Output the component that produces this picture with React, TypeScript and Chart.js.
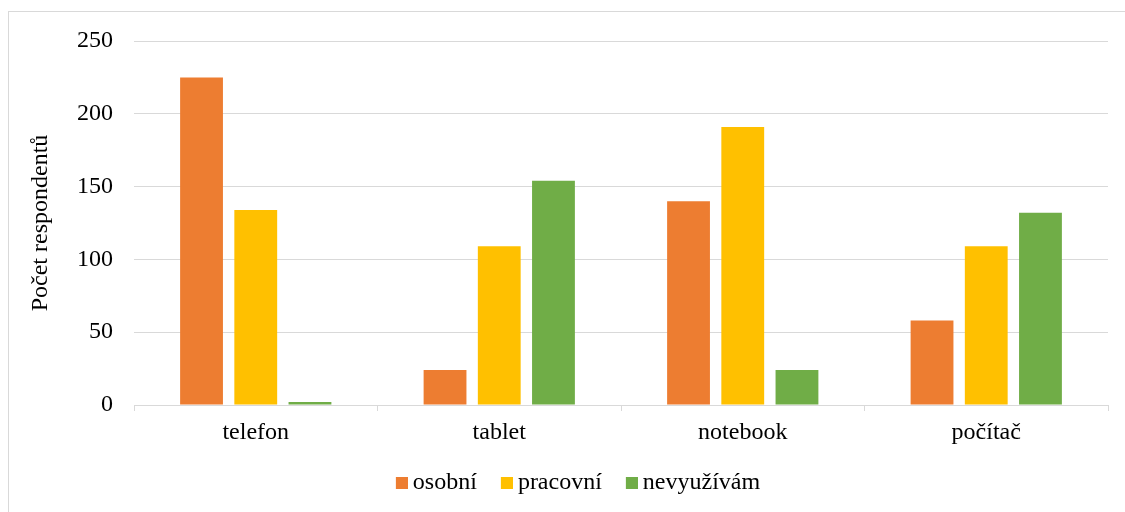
import React, { useEffect, useRef } from "react";
import { Chart, registerables } from "chart.js";

Chart.register(...registerables);

const categories = ["telefon", "tablet", "notebook", "počítač"];
const seriesNames = ["osobní", "pracovní", "nevyužívám"];
const osobni = [225, 24, 140, 58];
const pracovni = [134, 109, 191, 109];
const nevyuzivam = [2, 154, 24, 132];
const yTicks = [0, 50, 100, 150, 200, 250];
const seriesColors = ["#ED7D31", "#FFC000", "#70AD47"];
const yTitle = "Počet respondentů";

const FONT = { family: "'Liberation Serif', 'Times New Roman', serif", size: 24 };

// legend swatch: 12x12 square, right-aligned in a 22px wide transparent image
function makeSwatch(color: string): HTMLCanvasElement {
  const c = document.createElement("canvas");
  c.width = 22;
  c.height = 12;
  const ctx = c.getContext("2d")!;
  ctx.fillStyle = color;
  ctx.fillRect(10, 0, 12, 12);
  return c;
}

export default function App() {
  const canvasRef = useRef<HTMLCanvasElement | null>(null);

  useEffect(() => {
    if (!canvasRef.current) return;
    const swatches = seriesColors.map(makeSwatch);
    const values = [osobni, pracovni, nevyuzivam];
    const chart = new Chart(canvasRef.current, {
      type: "bar",
      data: {
        labels: categories,
        datasets: seriesNames.map((name, i) => ({
          label: name,
          data: values[i],
          backgroundColor: seriesColors[i],
          borderWidth: 0,
        })),
      },
      options: {
        animation: false,
        responsive: false,
        maintainAspectRatio: false,
        devicePixelRatio: 1,
        layout: { padding: { left: 45, top: 41, right: 17, bottom: 7 } },
        datasets: { bar: { categoryPercentage: 0.668, barPercentage: 0.79 } },
        scales: {
          x: {
            grid: {
              display: true,
              drawOnChartArea: false,
              drawTicks: true,
              tickLength: 6,
              color: "#d9d9d9",
              offset: true,
            },
            border: { display: true, color: "#d9d9d9" },
            ticks: { padding: 7, color: "#000", font: FONT },
            afterFit: (s: any) => {
              s.height = 45;
            },
          },
          y: {
            min: 0,
            max: 250,
            afterBuildTicks: (s: any) => {
              s.ticks = yTicks.map((v) => ({ value: v }));
            },
            ticks: { padding: 21, color: "#000", font: FONT },
            grid: { color: "#d9d9d9", drawTicks: false },
            border: { display: false },
            title: {
              display: true,
              text: yTitle,
              color: "#000",
              font: FONT,
              padding: { top: -18.4, bottom: 0 },
            },
            afterFit: (s: any) => {
              s.width = 89;
            },
          },
        },
        plugins: {
          legend: {
            position: "bottom",
            labels: {
              usePointStyle: true,
              boxWidth: 8,
              boxHeight: 12,
              padding: 21,
              color: "#000",
              font: FONT,
              generateLabels: (ch: any) => {
                const items = (Chart.defaults.plugins.legend.labels as any).generateLabels(ch);
                return items.map((it: any, i: number) => ({
                  ...it,
                  pointStyle: swatches[i],
                  lineWidth: 0,
                }));
              },
            },
          },
          tooltip: { enabled: false },
        },
      } as any,
    });
    return () => chart.destroy();
  }, []);

  return (
    <div style={{ position: "fixed", left: 0, top: 0, width: 1125, height: 512, overflow: "hidden", background: "#fff" }}>
      <div
        style={{
          position: "absolute",
          left: 8,
          top: 11,
          width: 1300,
          height: 700,
          border: "1px solid #d9d9d9",
        }}
      />
      <canvas
        ref={canvasRef}
        width={1125}
        height={512}
        style={{ position: "absolute", left: 0, top: 0, display: "block" }}
      />
    </div>
  );
}
